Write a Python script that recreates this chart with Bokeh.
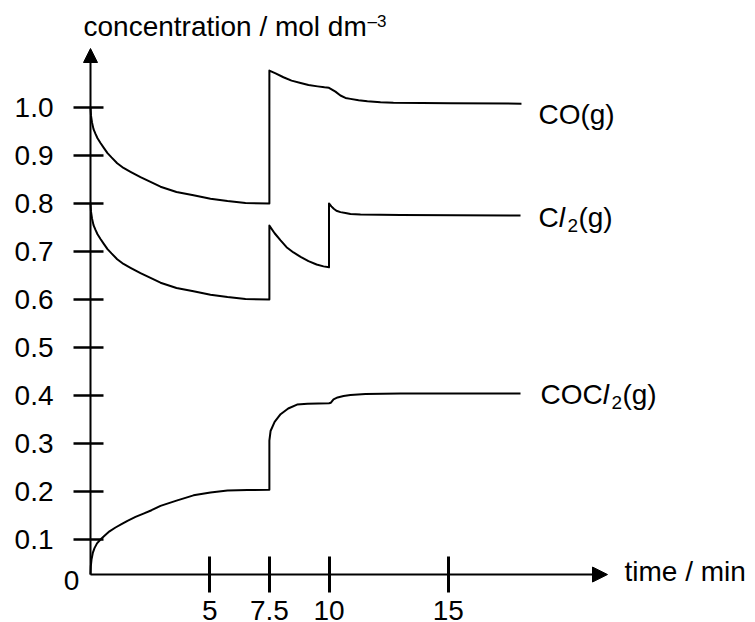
from bokeh.plotting import figure
from bokeh.models import LinearAxis, FixedTicker, Range1d, Arrow, NormalHead, Label, NumeralTickFormatter
from bokeh.embed import file_html
from bokeh.resources import INLINE

# ---------------- data ----------------
co_time = [0, 0.021, 0.063, 0.126, 0.210, 0.294, 0.419, 0.558, 0.713, 0.881, 1.119, 1.384, 1.677,
           2.096, 2.516, 2.935, 3.606, 4.319, 5.031, 5.744, 6.499, 7.5,
           7.5, 7.76, 8.09, 8.43, 8.81, 9.14, 9.52, 9.81, 10.0,
           10.27, 10.48, 10.69, 10.90, 11.24, 11.61, 12.16, 12.70, 15.09, 18.07]
co_conc = [1.000, 0.983, 0.969, 0.955, 0.945, 0.936, 0.926, 0.916, 0.905, 0.896, 0.884, 0.874, 0.866,
           0.855, 0.845, 0.835, 0.824, 0.817, 0.810, 0.805, 0.801, 0.800,
           1.077, 1.071, 1.063, 1.056, 1.051, 1.047, 1.044, 1.042, 1.041,
           1.033, 1.025, 1.020, 1.018, 1.015, 1.013, 1.011, 1.010, 1.009, 1.008]

cl2_time = [0, 0.021, 0.063, 0.126, 0.210, 0.294, 0.419, 0.558, 0.713, 0.881, 1.119, 1.384, 1.677,
            2.096, 2.516, 2.935, 3.606, 4.319, 5.031, 5.744, 6.499, 7.5,
            7.5, 7.72, 7.97, 8.22, 8.51, 8.81, 9.14, 9.48, 9.77, 10.0,
            10.0, 10.1, 10.2, 10.31, 10.48, 10.69, 10.90, 11.32, 13.0, 18.03]
cl2_conc = [0.800, 0.783, 0.769, 0.755, 0.745, 0.736, 0.726, 0.716, 0.705, 0.696, 0.684, 0.674, 0.666,
            0.655, 0.645, 0.635, 0.624, 0.617, 0.610, 0.605, 0.601, 0.600,
            0.754, 0.738, 0.723, 0.709, 0.698, 0.689, 0.680, 0.673, 0.669, 0.667,
            0.800, 0.794, 0.789, 0.785, 0.782, 0.780, 0.778, 0.777, 0.776, 0.775]

cocl2_time = [0, 0.013, 0.042, 0.096, 0.168, 0.273, 0.419, 0.587, 0.797, 1.048, 1.300, 1.551, 1.887,
              2.222, 2.558, 2.935, 3.606, 4.319, 5.031, 5.744, 6.583, 7.5,
              7.5, 7.55, 7.72, 7.97, 8.29, 8.66, 9.10, 10.0,
              10.08, 10.19, 10.36, 10.61, 10.90, 11.53, 13.0, 18.03]
cocl2_conc = [0.027, 0.044, 0.058, 0.072, 0.082, 0.092, 0.100, 0.108, 0.117, 0.125, 0.132, 0.139, 0.147,
              0.154, 0.161, 0.170, 0.181, 0.192, 0.198, 0.202, 0.203, 0.2035,
              0.306, 0.326, 0.345, 0.361, 0.373, 0.381, 0.383, 0.384,
              0.385, 0.392, 0.396, 0.399, 0.401, 0.403, 0.404, 0.404]

x_ticks = [5, 7.5, 10, 15]
x_tick_labels = ["5", "7.5", "10", "15"]
y_ticks = [0.1, 0.2, 0.3, 0.4, 0.5, 0.6, 0.7, 0.8, 0.9, 1.0]

y_title = "concentration / mol dm"
y_title_sup = "\u20133"
x_title = "time / min"
origin_label = "0"

# ---------------- layout constants (pixels) ----------------
W, H = 755, 622
X0_PX = 90.0          # pixel column of time 0
PX_PER_MIN = 23.85
Y0_PX = 587.0         # pixel row of concentration 0 (linear tick scale)
PX_PER_UNIT = 480.0
BASE = 0.027          # level where the time axis is drawn
FONT = "Liberation Sans"
FS = "28px"


def t_of(px):
    return (px - X0_PX) / PX_PER_MIN


def c_of(py):
    return (Y0_PX - py) / PX_PER_UNIT


p = figure(width=W, height=H, x_range=Range1d(t_of(0), t_of(W)), y_range=Range1d(c_of(H), c_of(0)),
           min_border=0, toolbar_location=None, output_backend="svg",
           x_axis_type=None, y_axis_type=None)
p.outline_line_color = None
p.background_fill_color = "white"
p.border_fill_color = "white"

xa = LinearAxis(fixed_location=BASE, ticker=FixedTicker(ticks=x_ticks),
                major_label_overrides=dict(zip(x_ticks, x_tick_labels)),
                axis_line_color=None, major_tick_in=18, major_tick_out=18,
                major_tick_line_width=3, major_tick_line_color="black",
                minor_tick_line_color=None, major_label_standoff=8,
                major_label_text_font=FONT, major_label_text_font_size=FS,
                major_label_text_color="black")
p.add_layout(xa, "below")

ya = LinearAxis(fixed_location=0, ticker=FixedTicker(ticks=y_ticks),
                formatter=NumeralTickFormatter(format="0.0"),
                axis_line_color=None, major_tick_in=13, major_tick_out=17,
                major_tick_line_width=2.5, major_tick_line_color="black",
                minor_tick_line_color=None, major_label_standoff=20,
                major_label_text_font=FONT, major_label_text_font_size=FS,
                major_label_text_color="black")
p.add_layout(ya, "left")

# axis lines with arrow heads
p.add_layout(Arrow(end=NormalHead(size=14, fill_color="black", line_color="black"),
                   x_start=0, y_start=BASE, x_end=0, y_end=c_of(48),
                   line_width=2, line_color="black"))
p.add_layout(Arrow(end=NormalHead(size=15, fill_color="black", line_color="black"),
                   x_start=0, y_start=BASE, x_end=t_of(607), y_end=BASE,
                   line_width=2, line_color="black"))

for t, c in [(co_time, co_conc), (cl2_time, cl2_conc), (cocl2_time, cocl2_conc)]:
    p.line(t, c, line_width=2, line_color="black", line_join="round")


def put(text, x_px, y_px, size=FS, style="normal", align="left"):
    p.add_layout(Label(x=t_of(x_px), y=c_of(y_px), text=text, text_font=FONT, text_font_size=size,
                       text_font_style=style, text_align=align, text_baseline="middle",
                       text_color="black"))


# axis titles (y positions are text centres)
put(y_title, 83, 26)
put(y_title_sup, 367, 21, size="17px")
put(x_title, 624, 571)
put(origin_label, 71, 580, align="center")

# series labels (pieces: regular, italic l, subscript 2)
EM = 28.0


def series_label(pieces, t_end, c_end, dx, dy):
    x_px = X0_PX + t_end * PX_PER_MIN + dx
    mid_px = Y0_PX - c_end * PX_PER_UNIT + dy
    for txt, kind, adv in pieces:
        if kind == "sub":
            put(txt, x_px, mid_px + 8, size="19px")
        elif kind == "ital":
            put(txt, x_px, mid_px, style="italic")
        else:
            put(txt, x_px, mid_px)
        x_px += adv


series_label([("CO(g)", "reg", 0)], co_time[-1], co_conc[-1], 17, 11)
series_label([("C", "reg", 0.722 * EM), ("l", "ital", 0.222 * EM + 2.5), ("2", "sub", 11.0),
              ("(g)", "reg", 0)], cl2_time[-1], cl2_conc[-1], 18, 2)
series_label([("CO", "reg", 1.5 * EM), ("C", "reg", 0.722 * EM), ("l", "ital", 0.222 * EM + 2.5),
              ("2", "sub", 11.0), ("(g)", "reg", 0)], cocl2_time[-1], cocl2_conc[-1], 20, 1)

open("out.html", "w").write(file_html(p, INLINE))
